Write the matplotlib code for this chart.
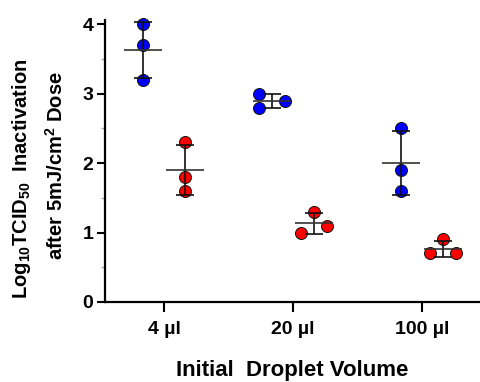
import numpy as np
import matplotlib
matplotlib.use('Agg')
import matplotlib.pyplot as plt
from matplotlib.ticker import MultipleLocator

# ---- data ----
categories = ['4 µl', '20 µl', '100 µl']
blue_values = [[4.0, 3.7, 3.2], [3.0, 2.9, 2.8], [2.5, 1.9, 1.6]]
red_values = [[2.3, 1.8, 1.6], [1.3, 1.1, 1.0], [0.9, 0.7, 0.7]]
y_ticks = [0, 1, 2, 3, 4]
x_label = 'Initial  Droplet Volume'
y_label_1 = r'Log$_{10}$TCID$_{50}$  Inactivation'
y_label_2 = r'after 5mJ/cm$^{2}$ Dose'

plt.rcParams['font.family'] = ['Liberation Sans', 'DejaVu Sans']
plt.rcParams['font.weight'] = 'bold'
plt.rcParams['mathtext.fontset'] = 'custom'
plt.rcParams['mathtext.rm'] = 'Liberation Sans:bold'
plt.rcParams['mathtext.it'] = 'Liberation Sans:bold'
plt.rcParams['mathtext.bf'] = 'Liberation Sans:bold'
plt.rcParams['mathtext.default'] = 'rm'

W, H = 480, 382
fig = plt.figure(figsize=(W / 100, H / 100), dpi=100)
ax = fig.add_axes([105 / W, 80 / H, 375 / W, 282 / H])
xlim = (-0.457, 2.45)
ylim = (0, 4.06)
ax.set_xlim(*xlim)
ax.set_ylim(*ylim)

px_per_y = 282 / (ylim[1] - ylim[0])
px_per_x = 375 / (xlim[1] - xlim[0])
marker_px = 12.0
overlap_thresh = marker_px / px_per_y * 1.02
step = 13.0 / px_per_x


def swarm_offsets(vals):
    vals = np.asarray(vals, dtype=float)
    order = np.argsort(vals, kind='stable')
    offs = np.zeros(len(vals))
    chains, cur = [], [order[0]]
    for i in order[1:]:
        if vals[i] - vals[cur[-1]] < overlap_thresh:
            cur.append(i)
        else:
            chains.append(cur)
            cur = [i]
    chains.append(cur)
    for ch in chains:
        if len(ch) > 1:
            for k, idx in enumerate(ch):
                offs[idx] = -step if k % 2 == 0 else step
    return offs


group_shift = 0.163
mean_half = 0.147
ms = marker_px * 72 / 100

for i in range(len(categories)):
    for vals, color, sgn in ((blue_values[i], '#0000ff', -1), (red_values[i], '#ff0000', 1)):
        v = np.asarray(vals, dtype=float)
        xc = i + sgn * group_shift
        m = v.mean()
        sd = v.std(ddof=1)
        ax.scatter(xc + swarm_offsets(v), v, s=ms ** 2, c=color, edgecolors='#111111',
                   linewidths=0.7, zorder=3, clip_on=False)
        ax.errorbar([xc], [m], yerr=[sd], fmt='none', ecolor='#111111', elinewidth=1.2,
                    capsize=6.5, capthick=1.2, zorder=4, clip_on=False)
        ax.hlines(m, xc - mean_half, xc + mean_half, color='#333333', lw=1.2, zorder=4)

for s in ('top', 'right'):
    ax.spines[s].set_visible(False)
for s in ('left', 'bottom'):
    ax.spines[s].set_linewidth(1.6)

ax.set_xticks(range(len(categories)))
ax.set_xticklabels(categories, fontsize=14, fontweight='bold')
ax.set_yticks(y_ticks)
ax.set_yticklabels([str(t) for t in y_ticks], fontsize=14, fontweight='bold')
ax.yaxis.set_minor_locator(MultipleLocator(0.5))
ax.tick_params(axis='y', which='major', length=5.5, width=1.5, pad=3)
ax.tick_params(axis='y', which='minor', length=3, width=1, color='#aaaaaa')
ax.tick_params(axis='x', which='major', length=7.5, width=1.5, pad=6)

fig.text(292 / W, 6 / H, x_label, ha='center', va='baseline', fontsize=16, fontweight='bold')
fig.text(22 / W, 1 - 179 / H, y_label_1, rotation=90, ha='center', va='center',
         fontsize=14.5, fontweight='bold')
fig.text(56 / W, 1 - 166 / H, y_label_2, rotation=90, ha='center', va='center',
         fontsize=14.5, fontweight='bold')

fig.savefig('out.png', dpi=100)
